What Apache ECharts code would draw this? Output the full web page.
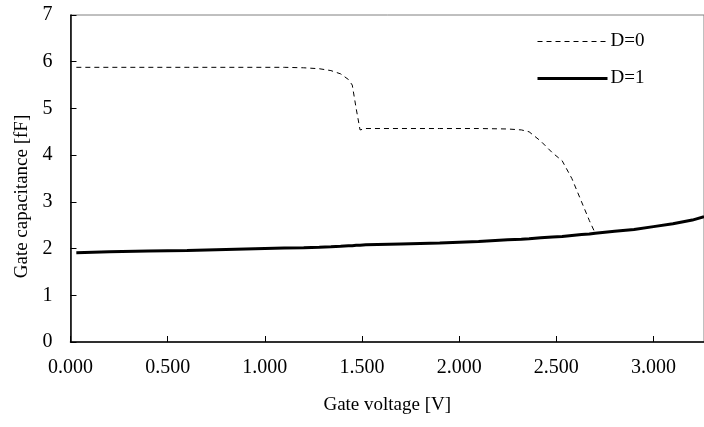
<!DOCTYPE html>
<html>
<head>
<meta charset="utf-8">
<script src="https://cdn.jsdelivr.net/npm/echarts@6/dist/echarts.min.js"></script>
<style>
  html, body { margin: 0; padding: 0; background: #fff; }
  #chart { width: 704px; height: 427px; }
</style>
</head>
<body>
<div id="chart"></div>
<script>
// gate voltage [V]
const voltage = [0.03, 0.2, 0.4, 0.6, 0.8, 1.0, 1.1, 1.2, 1.28, 1.34, 1.39, 1.43, 1.45, 1.47, 1.49, 1.52,
  1.7, 1.9, 2.1, 2.25, 2.32, 2.36, 2.42, 2.48, 2.53, 2.58, 2.63, 2.67, 2.70, 2.8, 2.9, 3.0, 3.1, 3.2, 3.26];
// gate capacitance [fF]
const capD0 = [5.88, 5.88, 5.88, 5.88, 5.88, 5.88, 5.88, 5.87, 5.85, 5.81, 5.74, 5.62, 5.5, 5.0, 4.54, 4.57,
  4.57, 4.57, 4.57, 4.56, 4.54, 4.5, 4.3, 4.05, 3.88, 3.5, 3.0, 2.6, 2.33, 2.37, 2.41, 2.47, 2.53, 2.61, 2.68];
const capD1 = [1.91, 1.93, 1.95, 1.96, 1.98, 2.0, 2.01, 2.02, 2.03, 2.04, 2.05, 2.06, 2.06, 2.07, 2.07, 2.08,
  2.1, 2.12, 2.15, 2.19, 2.2, 2.21, 2.23, 2.25, 2.26, 2.28, 2.3, 2.31, 2.33, 2.37, 2.41, 2.47, 2.53, 2.61, 2.68];
const seriesNames = ["D=0", "D=1"];

const font = "'Liberation Serif', 'Times New Roman', serif";

function pairs(ys) {
  return voltage.map((v, i) => [v, ys[i]]);
}

const chart = echarts.init(document.getElementById("chart"));
chart.setOption({
  animation: false,
  grid: { left: 70.5, right: 0, top: 15, bottom: 85, show: true, borderColor: "#808080", borderWidth: 1 },
  legend: {
    left: 531,
    top: 27,
    orient: "vertical",
    itemWidth: 70,
    itemHeight: 14,
    itemGap: 18,
    itemStyle: { opacity: 0 },
    textStyle: { fontFamily: font, fontSize: 19, color: "#000", padding: [0, 0, 0, -2] },
    data: [
      { name: seriesNames[0], lineStyle: { width: 1, type: [5, 4] } },
      { name: seriesNames[1], lineStyle: { width: 3, type: "solid" } },
    ],
  },
  xAxis: {
    type: "value",
    min: 0,
    max: 3.26,
    interval: 0.5,
    name: "Gate voltage [V]",
    nameLocation: "middle",
    nameGap: 54,
    nameTextStyle: { fontFamily: font, fontSize: 19, color: "#000" },
    axisLine: { onZero: false, lineStyle: { color: "#000", width: 1.5 } },
    axisTick: { inside: true, length: 6, lineStyle: { color: "#000" } },
    axisLabel: {
      fontFamily: font, fontSize: 20, color: "#000", margin: 16,
      showMaxLabel: false,
      formatter: (v) => v.toFixed(3),
    },
    splitLine: { show: false },
  },
  yAxis: {
    type: "value",
    min: 0,
    max: 7,
    interval: 1,
    name: "Gate capacitance [fF]",
    nameLocation: "middle",
    nameGap: 38,
    nameTextStyle: { fontFamily: font, fontSize: 19, color: "#000", padding: [0, 0, 0, -36] },
    axisLine: { show: true, lineStyle: { color: "#000", width: 1.5 } },
    axisTick: { show: true, inside: true, length: 6, lineStyle: { color: "#000" } },
    axisLabel: { fontFamily: font, fontSize: 20, color: "#000", margin: 18 },
    splitLine: { show: false },
  },
  series: [
    {
      name: seriesNames[0],
      type: "line",
      data: pairs(capD0),
      symbol: "none",
      lineStyle: { color: "#000", width: 1, type: [5, 4] },
      itemStyle: { color: "#000" },
      z: 3,
    },
    {
      name: seriesNames[1],
      type: "line",
      data: pairs(capD1),
      symbol: "none",
      lineStyle: { color: "#000", width: 3 },
      itemStyle: { color: "#000" },
      z: 2,
    },
  ],
});
</script>
</body>
</html>
